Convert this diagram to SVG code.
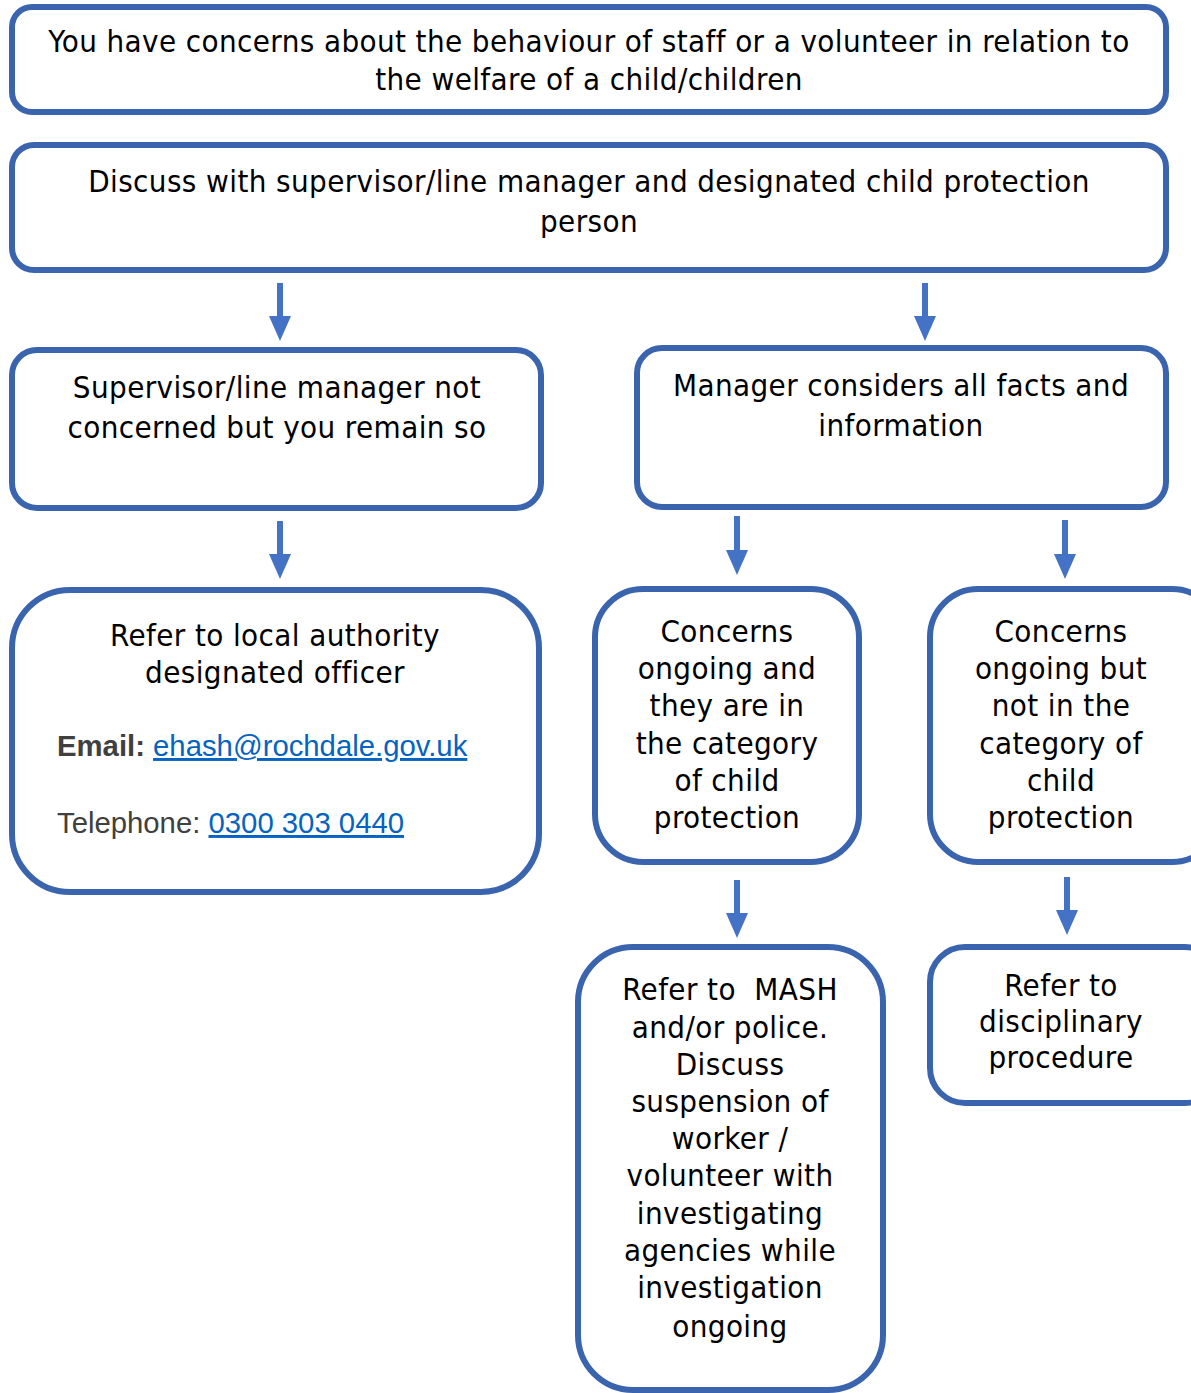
<svg xmlns="http://www.w3.org/2000/svg" width="1191" height="1393" viewBox="0 0 1191 1393">
<style>
.box{fill:#fff;stroke:#3A65AE;stroke-width:6}
.t{font-family:"DejaVu Sans Condensed","DejaVu Sans",sans-serif;font-stretch:condensed;font-size:31px;letter-spacing:0.4px;fill:#000;text-anchor:middle;white-space:pre}
.a{font-family:"Liberation Sans",Arial,sans-serif;font-size:29.3px;fill:#404040}
.lk{fill:#0563C1;text-decoration:underline}
.arr{stroke:#4472C4;stroke-width:6;fill:none}
.hd{fill:#4472C4}
</style>
<rect width="1191" height="1393" fill="#fff"/>
<g id="connectors">
<line class="arr" x1="280" y1="283" x2="280" y2="318"/><polygon class="hd" points="269,316 291,316 280,341"/>
<line class="arr" x1="925" y1="283" x2="925" y2="318"/><polygon class="hd" points="914,316 936,316 925,341"/>
<line class="arr" x1="280" y1="521" x2="280" y2="556"/><polygon class="hd" points="269,554 291,554 280,579"/>
<line class="arr" x1="737" y1="516" x2="737" y2="552"/><polygon class="hd" points="726,550 748,550 737,575"/>
<line class="arr" x1="1065" y1="520" x2="1065" y2="556"/><polygon class="hd" points="1054,554 1076,554 1065,579"/>
<line class="arr" x1="737" y1="880" x2="737" y2="915"/><polygon class="hd" points="726,913 748,913 737,938"/>
<line class="arr" x1="1067" y1="877" x2="1067" y2="912"/><polygon class="hd" points="1056,910 1078,910 1067,935"/>
</g>
<g id="n1"><rect class="box" x="12" y="7" width="1154" height="105" rx="20"/>
<text class="t" x="589" y="52">You have concerns about the behaviour of staff or a volunteer in relation to</text>
<text class="t" x="589" y="90">the welfare of a child/children</text></g>
<g id="n2"><rect class="box" x="12" y="145" width="1154" height="125" rx="22"/>
<text class="t" x="589" y="192">Discuss with supervisor/line manager and designated child protection</text>
<text class="t" x="589" y="232">person</text></g>
<g id="n3"><rect class="box" x="12" y="350" width="529" height="158" rx="25"/>
<text class="t" x="277" y="398">Supervisor/line manager not</text>
<text class="t" x="277" y="438">concerned but you remain so</text></g>
<g id="n4"><rect class="box" x="637" y="348" width="529" height="159" rx="25"/>
<text class="t" x="901" y="396">Manager considers all facts and</text>
<text class="t" x="901" y="436">information</text></g>
<g id="n5"><rect class="box" x="12" y="590" width="527" height="302" rx="58"/>
<text class="t" x="275" y="646">Refer to local authority</text>
<text class="t" x="275" y="683">designated officer</text>
<text class="a" x="57" y="756"><tspan font-weight="bold">Email:</tspan> <tspan class="lk">ehash@rochdale.gov.uk</tspan></text>
<text class="a" x="57" y="833">Telephone: <tspan class="lk">0300 303 0440</tspan></text></g>
<g id="n6"><rect class="box" x="595" y="589" width="264" height="273" rx="48"/>
<text class="t" x="727" y="642">Concerns</text>
<text class="t" x="727" y="679">ongoing and</text>
<text class="t" x="727" y="716">they are in</text>
<text class="t" x="727" y="754">the category</text>
<text class="t" x="727" y="791">of child</text>
<text class="t" x="727" y="828">protection</text></g>
<g id="n7"><rect class="box" x="930" y="589" width="290" height="273" rx="48"/>
<text class="t" x="1061" y="642">Concerns</text>
<text class="t" x="1061" y="679">ongoing but</text>
<text class="t" x="1061" y="716">not in the</text>
<text class="t" x="1061" y="754">category of</text>
<text class="t" x="1061" y="791">child</text>
<text class="t" x="1061" y="828">protection</text></g>
<g id="n8"><rect class="box" x="578" y="947" width="305" height="443" rx="55"/>
<text class="t" x="730" y="1000">Refer to  MASH</text>
<text class="t" x="730" y="1038">and/or police.</text>
<text class="t" x="730" y="1075">Discuss</text>
<text class="t" x="730" y="1112">suspension of</text>
<text class="t" x="730" y="1149">worker /</text>
<text class="t" x="730" y="1186">volunteer with</text>
<text class="t" x="730" y="1224">investigating</text>
<text class="t" x="730" y="1261">agencies while</text>
<text class="t" x="730" y="1298">investigation</text>
<text class="t" x="730" y="1337">ongoing</text></g>
<g id="n9"><rect class="box" x="930" y="947" width="290" height="156" rx="35"/>
<text class="t" x="1061" y="996">Refer to</text>
<text class="t" x="1061" y="1032">disciplinary</text>
<text class="t" x="1061" y="1068">procedure</text></g>
</svg>
